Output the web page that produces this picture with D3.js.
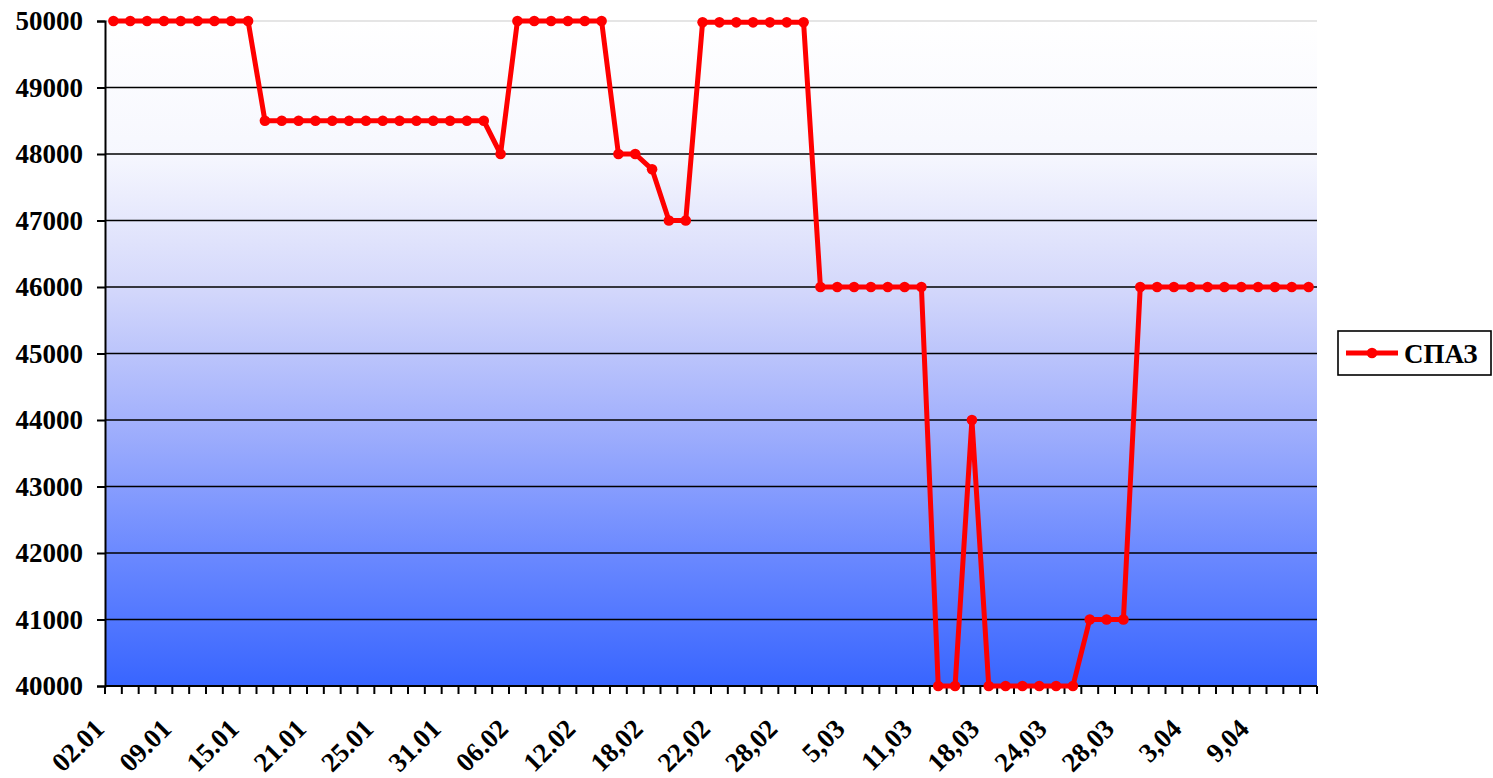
<!DOCTYPE html>
<html>
<head>
<meta charset="utf-8">
<script src="https://cdn.jsdelivr.net/npm/d3@7"></script>
<style>
  body { margin: 0; background: #fff; }
  text { font-family: "Liberation Serif", "Times New Roman", serif; font-weight: bold; }
</style>
</head>
<body>
<svg id="chart" width="1493" height="778"></svg>
<script>
// price values, one per day shown on the x axis (72 points)
var spazValues = [
  50000, 50000, 50000, 50000, 50000, 50000, 50000, 50000, 50000,
  48500, 48500, 48500, 48500, 48500, 48500, 48500, 48500, 48500, 48500, 48500, 48500, 48500, 48500,
  48000,
  50000, 50000, 50000, 50000, 50000, 50000,
  48000, 48000, 47770, 47000, 47000,
  49980, 49980, 49980, 49980, 49980, 49980, 49980,
  46000, 46000, 46000, 46000, 46000, 46000, 46000,
  40000, 40000, 44000,
  40000, 40000, 40000, 40000, 40000, 40000,
  41000, 41000, 41000,
  46000, 46000, 46000, 46000, 46000, 46000, 46000, 46000, 46000, 46000, 46000
];
// labels shown under every 4th category
var tickLabels = ["02.01", "09.01", "15.01", "21.01", "25.01", "31.01", "06.02", "12.02", "18,02",
  "22,02", "28,02", "5,03", "11,03", "18,03", "24,03", "28,03", "3,04", "9,04"];
var labelStep = 4;
var yTicks = [40000, 41000, 42000, 43000, 44000, 45000, 46000, 47000, 48000, 49000, 50000];
var seriesName = "СПАЗ";

var margin = { top: 21, left: 105, right: 176, bottom: 92 };
var width = 1493 - margin.left - margin.right;
var height = 778 - margin.top - margin.bottom;

var svg = d3.select("#chart");
var defs = svg.append("defs");
var grad = defs.append("linearGradient").attr("id", "bg")
  .attr("x1", 0).attr("y1", 0).attr("x2", 0).attr("y2", 1);
[[0, "#ffffff"], [0.2, "#f6f7fe"], [0.4, "#d4d8fb"], [0.6, "#a3b1fc"], [0.8, "#6b89ff"], [1, "#3865ff"]]
  .forEach(function (s) { grad.append("stop").attr("offset", s[0]).attr("stop-color", s[1]); });

var g = svg.append("g").attr("transform", "translate(" + margin.left + "," + margin.top + ")");

var idx = spazValues.map(function (d, i) { return i; });
var x = d3.scaleBand().domain(idx).range([0, width]);
var y = d3.scaleLinear().domain([40000, 50000]).range([height, 0]);

// plot background
g.append("rect").attr("width", width).attr("height", height).attr("fill", "url(#bg)");

// grid lines
g.selectAll(".grid").data(yTicks.slice(1)).enter().append("line")
  .attr("x1", 0).attr("x2", width)
  .attr("y1", function (d) { return y(d); }).attr("y2", function (d) { return y(d); })
  .attr("stroke", function (d) { return d === 50000 ? "#dcdcdc" : "#000"; })
  .attr("stroke-width", 1.6);

// y axis
var yAxis = g.append("g").call(d3.axisLeft(y).tickValues(yTicks).tickFormat(d3.format("d")).tickSize(8).tickPadding(14));
yAxis.select(".domain").attr("stroke-width", 2);
yAxis.selectAll(".tick line").attr("stroke-width", 2);
yAxis.selectAll("text").attr("font-size", 27).attr("fill", "#000").attr("font-family", null);

// x axis: ticks sit on category boundaries
var bounds = d3.range(spazValues.length + 1).map(function (i) { return i * x.step(); });
var xAxis = g.append("g").attr("transform", "translate(0," + height + ")");
xAxis.append("line").attr("x1", 0).attr("x2", width).attr("stroke", "#000").attr("stroke-width", 2);
xAxis.selectAll(".xt").data(bounds).enter().append("line")
  .attr("x1", function (d) { return d; }).attr("x2", function (d) { return d; })
  .attr("y1", 0).attr("y2", 8).attr("stroke", "#000").attr("stroke-width", 2);

xAxis.selectAll(".xl").data(tickLabels).enter().append("text")
  .attr("transform", function (d, i) {
    var cx = x(i * labelStep) + x.bandwidth() / 2;
    return "translate(" + (cx - 21) + "," + 31 + ") rotate(-45)";
  })
  .attr("text-anchor", "end")
  .attr("dy", "0.7em")
  .attr("font-size", 27)
  .text(function (d) { return d; });

// the series line
var line = d3.line()
  .x(function (d, i) { return x(i) + x.bandwidth() / 2; })
  .y(function (d) { return y(d); });

g.append("path").datum(spazValues)
  .attr("d", line).attr("fill", "none")
  .attr("stroke", "#ff0000").attr("stroke-width", 5).attr("stroke-linejoin", "round");

g.selectAll(".dot").data(spazValues).enter().append("circle")
  .attr("cx", function (d, i) { return x(i) + x.bandwidth() / 2; })
  .attr("cy", function (d) { return y(d); })
  .attr("r", 5.3).attr("fill", "#ff0000");

// legend
var legend = svg.append("g").attr("transform", "translate(1338,331)");
legend.append("rect").attr("width", 153).attr("height", 44)
  .attr("fill", "#fff").attr("stroke", "#000").attr("stroke-width", 1.6);
legend.append("line").attr("x1", 8).attr("x2", 60).attr("y1", 22).attr("y2", 22)
  .attr("stroke", "#ff0000").attr("stroke-width", 5);
legend.append("circle").attr("cx", 34).attr("cy", 22).attr("r", 5.3).attr("fill", "#ff0000");
legend.append("text").attr("x", 66).attr("y", 32).attr("font-size", 27).text(seriesName);
</script>
</body>
</html>
